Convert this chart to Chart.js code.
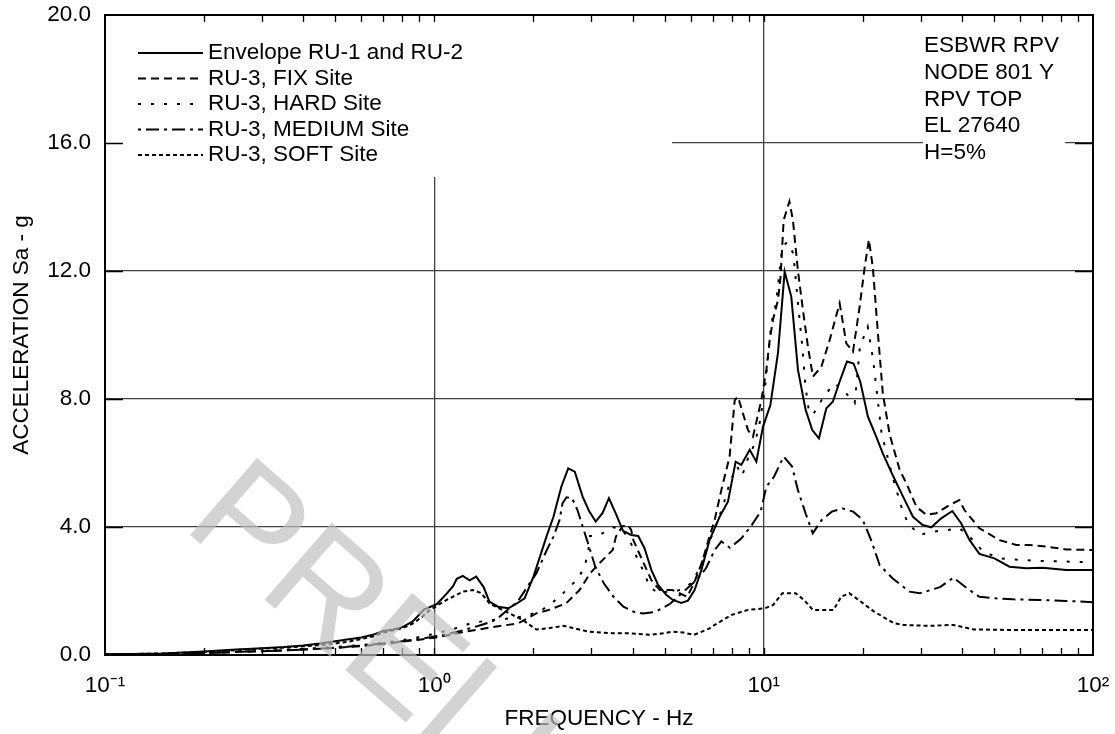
<!DOCTYPE html>
<html><head><meta charset="utf-8">
<script src="https://cdn.jsdelivr.net/npm/chart.js@4.4.1/dist/chart.umd.min.js"></script>
<style>html,body{margin:0;padding:0;background:#fff;}canvas{display:block;}</style>
</head><body>
<canvas id="c" width="1115" height="734"></canvas>
<script>
// ---------- DATA ----------
const envFreq = [0.1,0.12,0.15,0.2,0.25,0.3,0.35,0.4,0.45,0.5,0.55,0.6,0.65,0.7,0.75,0.8,0.86,0.93,0.98,1.02,1.09,1.14,1.17,1.22,1.28,1.34,1.41,1.47,1.56,1.68,1.78,1.88,2.0,2.19,2.3,2.43,2.55,2.67,2.82,2.95,3.09,3.24,3.39,3.57,3.74,3.96,4.16,4.35,4.56,4.78,5.06,5.3,5.62,5.89,6.17,6.47,6.85,7.35,7.79,8.22,8.55,9.07,9.5,9.95,10.48,11.05,11.58,12.13,12.71,13.41,14.05,14.72,15.5,16.23,17.0,17.9,18.75,19.65,20.73,21.98,23.0,24.7,26.5,28.4,30.4,32.3,34.6,37.4,39.8,42.2,45.2,50.2,55.8,62.7,70.4,82.9,100];
const envAcc  = [0.02,0.03,0.05,0.11,0.17,0.21,0.25,0.3,0.36,0.43,0.49,0.55,0.63,0.75,0.8,0.87,1.05,1.42,1.52,1.6,1.92,2.15,2.38,2.47,2.33,2.45,2.13,1.67,1.51,1.46,1.61,1.77,2.45,3.7,4.32,5.26,5.83,5.73,4.95,4.5,4.17,4.43,4.9,4.38,3.88,3.75,3.72,3.33,2.66,2.19,1.88,1.72,1.63,1.7,2.03,2.66,3.59,4.32,4.79,6.04,5.94,6.41,6.04,7.13,7.81,9.43,11.98,11.2,8.91,7.66,7.03,6.77,7.71,7.92,8.54,9.17,9.11,8.54,7.45,6.82,6.3,5.6,4.95,4.32,4.06,3.99,4.27,4.5,4.11,3.59,3.16,3.02,2.76,2.71,2.73,2.66,2.66];

const fixFreq = [0.1,0.15,0.2,0.3,0.4,0.5,0.6,0.7,0.8,0.9,1.0,1.1,1.2,1.5,1.8,2.04,2.23,2.51,2.76,2.97,3.13,3.48,3.56,3.73,3.87,3.96,4.02,4.3,4.56,4.84,5.28,5.86,6.14,6.5,6.8,7.1,7.44,7.88,8.17,8.36,8.65,8.96,9.28,9.84,10.19,10.43,10.67,11.05,11.25,11.5,11.97,12.27,12.7,13.16,13.63,14.11,14.96,15.86,17.01,17.82,18.67,19.56,20.25,20.87,21.46,22.23,23.0,24.12,25.86,27.4,29.1,31.2,33.4,36.7,39.3,40.7,45.2,52.0,58.5,64.2,72.1,82.9,100];
const fixAcc  = [0.01,0.03,0.06,0.12,0.17,0.22,0.28,0.34,0.42,0.48,0.54,0.62,0.7,0.87,0.99,1.3,1.41,1.61,2.03,2.55,2.81,3.28,3.7,4.03,4.06,3.91,3.59,2.92,2.34,2.03,2.03,1.82,2.24,2.9,3.6,4.22,5.16,6.2,7.97,8.07,7.55,7.03,6.82,7.97,8.91,9.84,10.47,11.09,11.8,13.59,14.17,13.59,12.03,10.78,9.63,8.7,9.0,9.84,10.99,9.74,9.48,10.88,12.1,12.98,12.1,10.05,8.18,6.9,5.8,5.26,4.63,4.38,4.43,4.69,4.84,4.53,3.96,3.59,3.44,3.44,3.39,3.3,3.28];

const hardFreq = [0.1,0.15,0.2,0.3,0.4,0.5,0.6,0.7,0.8,0.9,1.0,1.15,1.29,1.47,1.65,1.85,2.08,2.27,2.49,2.74,2.87,2.94,2.97,3.13,3.48,3.7,3.92,4.11,4.35,4.5,4.8,5.1,5.44,5.75,6.1,6.5,7.0,7.5,7.9,8.3,8.6,9.0,9.4,9.72,10.08,10.31,10.55,10.9,11.4,11.8,12.3,12.8,13.1,13.4,13.7,14.1,15.2,16.4,17.8,18.9,19.6,20.7,21.5,22.2,22.8,24.7,26.2,27.4,29.8,32.3,36,39.3,42.2,46.4,52,59.6,68.8,82.9,100];
const hardAcc  = [0.01,0.03,0.07,0.13,0.19,0.25,0.31,0.38,0.46,0.56,0.66,0.82,0.99,1.09,1.13,1.2,1.35,1.61,1.98,2.4,2.81,3.33,3.72,3.72,3.99,3.95,3.59,3.07,2.55,2.13,1.92,1.98,2.0,2.08,2.3,2.9,3.8,4.6,5.4,5.9,5.6,6.2,6.6,7.24,8.28,9.32,10.36,10.99,12.76,12.9,12.55,10.68,9.63,8.39,7.66,7.5,8.07,8.49,8.18,7.87,9.63,10.26,9.22,7.97,6.93,5.52,4.63,4.11,3.75,3.85,3.9,3.96,3.7,3.23,3.02,2.97,2.94,2.92,2.9];

const mediumFreq = [0.1,0.15,0.2,0.3,0.4,0.5,0.6,0.7,0.8,0.9,1.0,1.1,1.2,1.35,1.5,1.58,1.79,2.04,2.2,2.3,2.4,2.45,2.52,2.62,2.72,2.8,2.95,3.08,3.27,3.5,3.75,4.03,4.3,4.7,5.2,5.6,6.25,6.68,7.1,7.44,7.9,8.55,9.2,9.79,10.19,10.75,11.5,12.2,12.7,13.4,14.1,15.0,16.1,17.4,18.7,20.0,21.2,22.5,24.6,27.7,29.8,34.3,37.7,41.5,45.2,50.8,57.1,68.8,82.9,100];
const mediumAcc  = [0.01,0.03,0.06,0.12,0.17,0.23,0.29,0.36,0.43,0.5,0.58,0.66,0.75,0.9,1.05,1.2,1.67,2.55,3.3,3.7,4.22,4.74,4.93,4.9,4.53,4.12,3.39,2.76,2.24,1.82,1.51,1.35,1.3,1.35,1.6,1.9,2.34,2.71,3.28,3.55,3.35,3.64,4.06,4.48,5.26,5.57,6.2,5.89,5.16,4.43,3.8,4.22,4.48,4.58,4.48,4.22,3.59,2.81,2.4,1.98,1.93,2.12,2.42,2.08,1.82,1.77,1.74,1.72,1.69,1.65];

const softFreq = [0.1,0.12,0.15,0.2,0.25,0.3,0.35,0.4,0.45,0.5,0.55,0.6,0.65,0.7,0.75,0.8,0.86,0.92,0.97,1.09,1.22,1.31,1.39,1.47,1.58,1.69,1.86,1.94,2.04,2.2,2.47,2.94,3.48,3.92,4.5,5.0,5.28,5.7,6.14,6.85,7.1,7.98,8.96,10.08,10.67,11.4,12.5,13.26,14.1,16.3,17.2,18.2,19.7,21.7,24.9,26.5,31.7,37.6,43.4,57,100];
const softAcc  = [0.02,0.03,0.05,0.1,0.15,0.2,0.23,0.27,0.31,0.36,0.42,0.5,0.58,0.7,0.77,0.84,0.98,1.2,1.41,1.72,1.98,2.03,1.93,1.61,1.45,1.3,1.09,0.95,0.8,0.83,0.91,0.73,0.68,0.68,0.63,0.68,0.73,0.7,0.63,0.83,0.94,1.25,1.41,1.46,1.56,1.93,1.93,1.72,1.41,1.41,1.82,1.93,1.67,1.35,0.99,0.94,0.91,0.94,0.8,0.78,0.78];

const seriesLabels = ['Envelope RU-1 and RU-2','RU-3, FIX Site','RU-3, HARD Site','RU-3, MEDIUM Site','RU-3, SOFT Site'];
const xTickValues = [0.1,1,10,100];
const xTickLabels = ['10\u207B\u00B9','10\u2070','10\u00B9','10\u00B2'];
const yTickValues = [0,4,8,12,16,20];
const infoLines = ['ESBWR RPV','NODE 801 Y','RPV TOP','EL 27640','H=5%'];
const xTitle = 'FREQUENCY - Hz';
const yTitle = 'ACCELERATION Sa - g';
const watermarkText = 'PRELIMINARY';

// ---------- STYLE ----------
const FONT = '"Liberation Sans", Arial, Helvetica, sans-serif';
const FS = 22.5;
const dashes = [[], [8,5], [3,10], [3,5,13,5], [4,3]];
const GRID = '#404040';

function pts(f, a){ return f.map((x,i)=>({x:x, y:a[i]})); }
const seriesData = [pts(envFreq,envAcc), pts(fixFreq,fixAcc), pts(hardFreq,hardAcc), pts(mediumFreq,mediumAcc), pts(softFreq,softAcc)];

function isDecade(v){ if(!(v>0)) return false; const l=Math.log10(v); return Math.abs(l-Math.round(l))<1e-9; }
function near(a,b){ return Math.abs(a-b) < 1e-9*Math.max(1,Math.abs(b)); }

const decorations = {
  id:'decorations',
  beforeDatasetsDraw(chart){
    const ctx = chart.ctx, ca = chart.chartArea;
    ctx.save();
    ctx.fillStyle = '#fff';
    ctx.fillRect(ca.left+1, ca.top+1, 672-ca.left-1, 177-ca.top-1);
    ctx.fillRect(923, ca.top+1, 142, 152);
    // legend
    ctx.font = FS + 'px ' + FONT;
    ctx.textBaseline = 'middle';
    ctx.textAlign = 'left';
    ctx.strokeStyle = '#000';
    ctx.fillStyle = '#000';
    ctx.lineWidth = 2;
    ctx.lineCap = 'butt';
    const rowY = [53, 78.5, 104, 129.5, 155];
    seriesLabels.forEach((lab,i)=>{
      ctx.setLineDash(dashes[i]);
      ctx.beginPath();
      ctx.moveTo(138, rowY[i]); ctx.lineTo(203, rowY[i]);
      ctx.stroke();
      ctx.setLineDash([]);
      ctx.fillText(lab, 208, rowY[i]);
    });
    // info text
    infoLines.forEach((t,i)=>{ ctx.fillText(t, 924, 46 + i*26.7); });
    ctx.restore();
  },
  afterDraw(chart){
    const ctx = chart.ctx, ca = chart.chartArea, xs = chart.scales.x, ys = chart.scales.y;
    ctx.save();
    ctx.strokeStyle = '#000';
    ctx.setLineDash([]);
    ctx.lineWidth = 1.3;
    ctx.beginPath();
    for (let d=-1; d<=1; d++){
      for (let m=1; m<=9; m++){
        if (d===-1 && m===1) continue;
        const px = Math.round(xs.getPixelForValue(m*Math.pow(10,d)))+0.5;
        ctx.moveTo(px, ca.top); ctx.lineTo(px, ca.top+7);
        ctx.moveTo(px, ca.bottom); ctx.lineTo(px, ca.bottom-7);
      }
    }
    [4,8,12,16].forEach(v=>{
      const py = Math.round(ys.getPixelForValue(v))+0.5;
      ctx.moveTo(ca.left, py); ctx.lineTo(ca.left+18, py);
      ctx.moveTo(ca.right-18, py); ctx.lineTo(ca.right, py);
    });
    ctx.stroke();
    ctx.lineWidth = 2;
    ctx.strokeRect(ca.left, ca.top, ca.right-ca.left, ca.bottom-ca.top);
    // watermark
    ctx.translate(181, 527);
    ctx.rotate(41*Math.PI/180);
    ctx.font = '148px ' + FONT;
    ctx.fillStyle = 'rgba(190,190,190,0.68)';
    ctx.textBaseline = 'alphabetic';
    ctx.textAlign = 'left';
    ctx.fillText(watermarkText, 0, 0);
    ctx.restore();
  }
};

new Chart(document.getElementById('c'), {
  type:'line',
  data:{
    datasets: seriesLabels.map((lab,i)=>({
      label: lab,
      data: seriesData[i],
      borderColor:'#000',
      borderWidth:2,
      borderDash: dashes[i],
      pointRadius:0,
      tension:0,
      fill:false
    }))
  },
  options:{
    responsive:false,
    animation:false,
    devicePixelRatio:1,
    layout:{ padding:{ top:15, right:22, left:0, bottom:0 } },
    plugins:{ legend:{display:false}, tooltip:{enabled:false} },
    scales:{
      x:{
        type:'logarithmic', min:0.1, max:100,
        afterBuildTicks(scale){
          const t=[];
          for (let d=-1; d<=1; d++) for (let m=1; m<10; m++) t.push({value: m*Math.pow(10,d)});
          t.push({value:100});
          scale.ticks = t;
        },
        afterFit(scale){ scale.height = 79; scale.paddingLeft = 0; scale.paddingRight = 0; },
        border:{display:false},
        grid:{ drawTicks:false, lineWidth:1.3,
          color: c => { const v = c.tick ? c.tick.value : 0; return (isDecade(v) && v>0.5 && v<50) ? GRID : 'rgba(0,0,0,0)'; } },
        ticks:{ autoSkip:false, maxRotation:0, minRotation:0, padding:17, color:'#000',
          font:{ family:FONT, size:FS },
          callback: v => { const i = xTickValues.findIndex(t=>near(v,t)); return i>=0 ? xTickLabels[i] : ''; } },
        title:{ display:true, text:xTitle, color:'#000', font:{family:FONT, size:FS}, padding:{top:0, bottom:2} }
      },
      y:{
        min:0, max:20,
        afterBuildTicks(scale){ scale.ticks = yTickValues.map(v=>({value:v})); },
        afterFit(scale){ scale.width = 105; scale.paddingTop = 0; scale.paddingBottom = 0; },
        border:{display:false},
        grid:{ drawTicks:false, lineWidth:1.3,
          color: c => { const v = c.tick ? c.tick.value : 0; return (v>0 && v<20) ? GRID : 'rgba(0,0,0,0)'; } },
        ticks:{ padding:14, color:'#000', font:{family:FONT, size:FS}, callback: v => Number(v).toFixed(1) },
        title:{ display:true, text:yTitle, color:'#000', font:{family:FONT, size:FS}, padding:{top:8, bottom:0} }
      }
    }
  },
  plugins:[decorations]
});
</script>
</body></html>
